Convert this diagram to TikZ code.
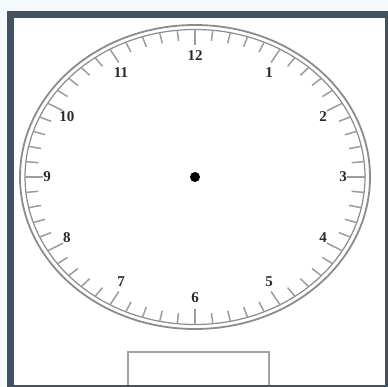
\documentclass[tikz,border=0pt]{standalone}
\usepackage{fontspec}
\setmainfont{Liberation Serif}
\definecolor{frameblue}{HTML}{435260}
\definecolor{outerbg}{HTML}{F4FAFC}
\definecolor{rimgray}{HTML}{8C8C8C}
\definecolor{tickgray}{HTML}{9C9C9C}
\definecolor{numgray}{HTML}{2A2A2A}
\tikzset{
  rim/.style={draw=rimgray, line width=1.8pt},
  tickmark/.style={draw=tickgray, line width=1.5pt},
  num/.style={font=\fontsize{15}{15}\selectfont\bfseries, text=numgray, inner sep=0pt},
  answerbox/.style={draw=rimgray!80, line width=1.6pt, fill=white},
}
\begin{document}
\begin{tikzpicture}[x=1pt,y=-1pt]
\useasboundingbox (0,0) rectangle (388,387);
\fill[outerbg] (0,0) rectangle (388,387);
\fill[white] (10.5,14.5) rectangle (388.5,388.5);
% clock rims
\draw[rim] (195,177) ellipse [x radius=175, y radius=152];
\draw[rim, line width=1.2pt] (195,177) ellipse [x radius=170, y radius=147.5];
% ticks
\foreach \i in {0,...,59}{
  \pgfmathsetmacro\a{6*\i}
  \pgfmathsetmacro\s{mod(\i,5)==0 ? 0.87 : 0.9}
  \draw[tickmark] ({195+170*sin(\a)},{177-147.5*cos(\a)}) -- ({195+175*\s*sin(\a)},{177-152*\s*cos(\a)});
}
% numbers
\foreach \h in {1,...,12}{
  \node[num] (n\h) at ({195+148*sin(30*\h)},{177-121*cos(30*\h)}) {\h};
}
% centre
\node[circle, fill=black, minimum size=10pt, inner sep=0pt] (hub) at (195,177) {};
% answer box
\draw[answerbox] (128,352) rectangle (269,390);
% frame
\draw[frameblue, line width=7pt] (10.5,14.5) rectangle (388.5,388.5);
\end{tikzpicture}
\end{document}
